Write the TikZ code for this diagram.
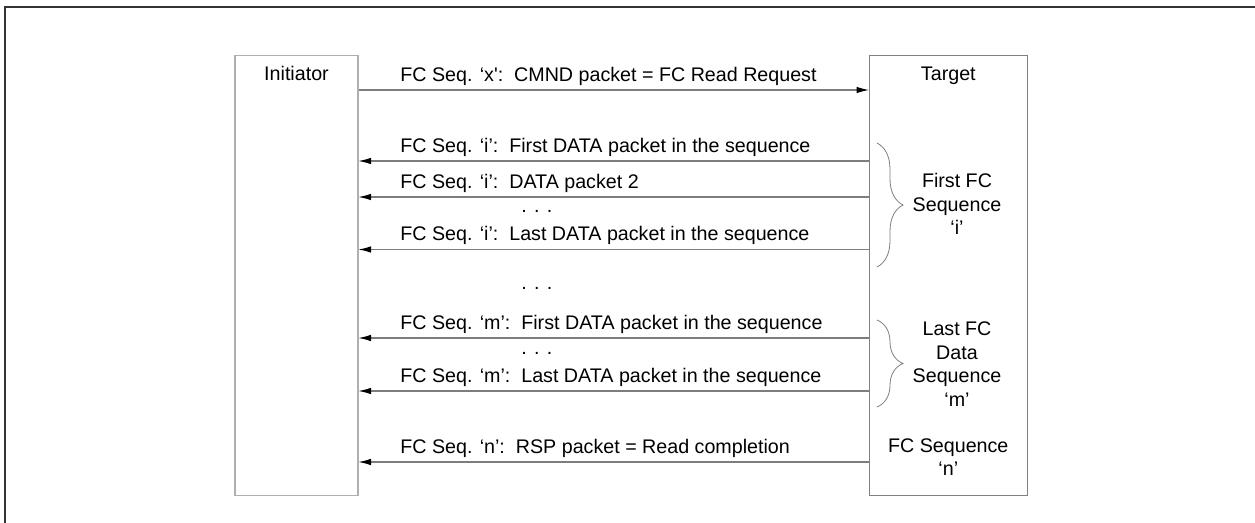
\documentclass[tikz,border=0pt]{standalone}
\usepackage{fontspec}
\setmainfont{Liberation Sans}
\usetikzlibrary{positioning,arrows.meta,calc,decorations.pathreplacing}
\definecolor{framecol}{RGB}{51,51,51}
\definecolor{initcol}{RGB}{175,175,175}
\definecolor{targcol}{RGB}{128,128,128}
\definecolor{msgcol}{RGB}{125,125,125}

\begin{document}
\begin{tikzpicture}[
    x=0.02cm, y=-0.02cm,
    font=\fontsize{11.2}{13.4}\selectfont,
    party/.style={draw=#1, line width=0.6pt, inner sep=0pt, minimum height=8.82cm},
    partylab/.style={anchor=base, inner sep=0pt},
    msg/.style={draw=msgcol, line width=0.6pt, -{Latex[length=0.25cm, width=0.13cm, color=black]}},
    msglab/.style={anchor=base west, inner sep=0pt},
    moredots/.style={anchor=base west, inner sep=0pt},
    grp/.style={draw=msgcol, line width=0.45pt, decorate, decoration={brace, amplitude=0.52cm}},
    grplab/.style={align=center, inner sep=0pt},
]
\useasboundingbox (0,0) rectangle (1255,523);
\clip (0,0) rectangle (1255,523);

% ---- Outer frame ----
\draw[framecol, line width=1.15pt] (5,7) rectangle (1275,545);

% ---- Parties ----
\node[party=initcol, minimum width=2.46cm] (init) at (296.5,275.5) {};
\node[party=targcol, minimum width=3.15cm] (targ) at (948.3,275.5) {};
\node[partylab] (initlab) at ($(init.north)+(0,26)$) {Initiator};
\node[partylab] (targlab) at ($(targ.north)+(0,26)$) {Target};

% ---- Rows ----
\coordinate (r1) at (0,90);
\coordinate (r2) at (0,161);
\coordinate (r3) at (0,197);
\coordinate (r4) at (0,249.5);
\coordinate (r5) at (0,338);
\coordinate (r6) at (0,391);
\coordinate (r7) at (0,462);

% ---- Messages ----
\draw[msg] (init.east |- r1) -- (targ.west |- r1);
\draw[msg] (targ.west |- r2) -- (init.east |- r2);
\draw[msg] (targ.west |- r3) -- (init.east |- r3);
\draw[msg] (targ.west |- r4) -- (init.east |- r4);
\draw[msg] (targ.west |- r5) -- (init.east |- r5);
\draw[msg] (targ.west |- r6) -- (init.east |- r6);
\draw[msg] (targ.west |- r7) -- (init.east |- r7);

\node[msglab] (m1) at ($(400,0 |- r1)+(0,-8.5)$) {FC Seq. ‘x\textquotesingle:\ \ CMND packet = FC Read Request};
\node[msglab] (m2) at ($(400,0 |- r2)+(0,-8.5)$) {FC Seq. ‘i’:\ \ First DATA packet in the sequence};
\node[msglab] (m3) at ($(400,0 |- r3)+(0,-8.5)$) {FC Seq. ‘i’:\ \ DATA packet 2};
\node[msglab] (m4) at ($(400,0 |- r4)+(0,-8.5)$) {FC Seq. ‘i’:\ \ Last DATA packet in the sequence};
\node[msglab] (m5) at ($(400,0 |- r5)+(0,-8.5)$) {FC Seq. ‘m’:\ \ First DATA packet in the sequence};
\node[msglab] (m6) at ($(400,0 |- r6)+(0,-8.5)$) {FC Seq. ‘m’:\ \ Last DATA packet in the sequence};
\node[msglab] (m7) at ($(400,0 |- r7)+(0,-8.5)$) {FC Seq. ‘n’:\ \ RSP packet = Read completion};

\node[moredots] (d1) at (521,213) {. . .};
\node[moredots] (d2) at (521,290) {. . .};
\node[moredots] (d3) at (521,355) {. . .};

% ---- Sequences ----
\coordinate (bi1) at (877,143);
\coordinate (bi2) at (877,267);
\coordinate (bm1) at (877,320);
\coordinate (bm2) at (877,407);
\draw[grp] (bi1) -- (bi2);
\draw[grp] (bm1) -- (bm2);

\node[grplab] (gi) at (957,204) {First FC\\Sequence\\‘i’};
\node[grplab] (gm) at (957,364) {Last FC\\Data\\Sequence\\‘m’};
\node[grplab] (gn) at (948.3,457) {FC Sequence\\‘n’};

\end{tikzpicture}
\end{document}
